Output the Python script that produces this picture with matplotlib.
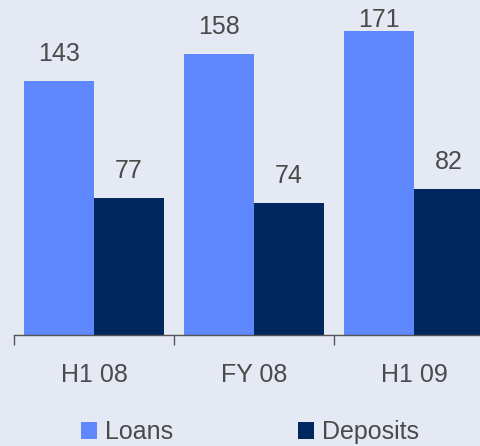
import matplotlib
matplotlib.use("Agg")
import matplotlib.pyplot as plt
from matplotlib.patches import Patch
import numpy as np

categories = ["H1 08", "FY 08", "H1 09"]
loans = [143, 158, 171]
deposits = [77, 74, 82]
series_names = ["Loans", "Deposits"]

plt.rcParams['font.family'] = ['Liberation Sans', 'DejaVu Sans']

BG = "#E5E9F3"
C_LOANS = "#5F88FF"
C_DEP = "#00285E"
TXT = "#4A4A4A"

W, H = 480, 446
fig = plt.figure(figsize=(W/100, H/100), dpi=100, facecolor=BG)
ax = fig.add_axes([14/W, (H-335)/H, 466/W, 335/H])
ax.set_facecolor(BG)

x = np.arange(len(categories))
bw = 0.4375
ax.bar(x - bw/2, loans, width=bw, color=C_LOANS, label=series_names[0])
ax.bar(x + bw/2, deposits, width=bw, color=C_DEP, label=series_names[1])

ymax = 188.5
ax.set_ylim(0, ymax)
ax.set_xlim(-0.5, 2.4125)

ppu = 335/ymax  # pixels per unit
for xs, vals in ((x - bw/2, loans), (x + bw/2, deposits)):
    for xi, v in zip(xs, vals):
        base_px = v*ppu + 20
        base_px = min(base_px, 335 - 27)
        ax.text(xi, base_px/ppu, str(v), ha="center", va="baseline",
                fontsize=18, color=TXT)

for s in ["top", "right", "left"]:
    ax.spines[s].set_visible(False)
ax.spines["bottom"].set_color("#555555")
ax.spines["bottom"].set_linewidth(1.0)
ax.set_yticks([])
ax.set_xticks(x)
ax.set_xticklabels(categories, fontsize=18, color=TXT)
ax.tick_params(axis="x", which="major", length=0, pad=20)
ax.set_xticks([-0.5, 0.5, 1.5], minor=True)
ax.tick_params(axis="x", which="minor", length=7, width=1.0, color="#555555", direction="out")

handles = [Patch(facecolor=C_LOANS), Patch(facecolor=C_DEP)]
leg = fig.legend(handles, series_names, loc="center", bbox_to_anchor=(250/W, 1 - 432/H),
                 ncol=2, frameon=False, fontsize=18, handlelength=0.65, handleheight=0.65,
                 handletextpad=0.3, columnspacing=5.0, borderaxespad=0, borderpad=0)
for t in leg.get_texts():
    t.set_color(TXT)

fig.savefig("out.png", dpi=100, facecolor=BG)
